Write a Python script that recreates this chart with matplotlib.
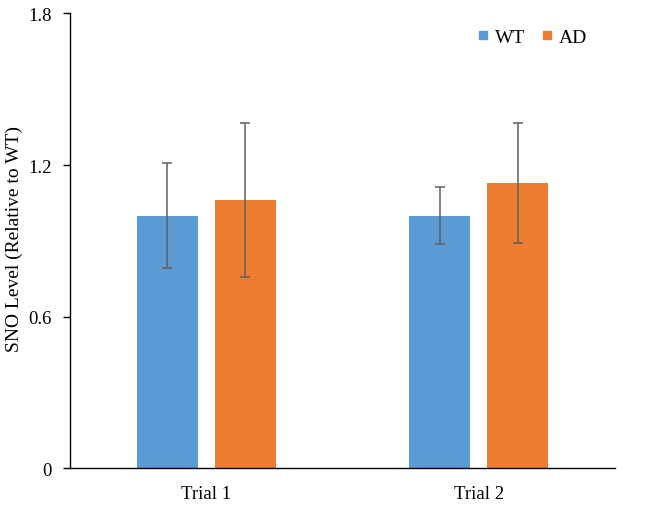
import matplotlib
matplotlib.use("Agg")
import matplotlib.pyplot as plt
from matplotlib.lines import Line2D
import numpy as np

categories = ["Trial 1", "Trial 2"]
series = ["WT", "AD"]
wt_values = [1.0, 1.0]
wt_errors = [0.208, 0.114]
ad_values = [1.063, 1.13]
ad_errors = [0.304, 0.238]
yticks = [0, 0.6, 1.2, 1.8]
ytick_labels = ["0", "0.6", "1.2", "1.8"]

colors = ["#5B9BD5", "#ED7D31"]
plt.rcParams['font.family'] = ['Liberation Serif', 'DejaVu Serif']

fig = plt.figure(figsize=(6.45, 5.06), dpi=100)
ax = fig.add_axes([0.1085, 0.0725, 0.845, 0.899])

x = np.arange(len(categories))
w = 0.224
off = 0.143
ekw = dict(ecolor="#5f5f5f", elinewidth=1.1, capsize=3.5, capthick=1.1)
ax.bar(x - off, wt_values, w, yerr=wt_errors, color=colors[0], error_kw=ekw, zorder=2)
ax.bar(x + off, ad_values, w, yerr=ad_errors, color=colors[1], error_kw=ekw, zorder=2)

ax.set_xlim(-0.5, 1.5)
ax.set_ylim(0, 1.8)
ax.set_xticks(x)
ax.set_xticklabels(categories, fontsize=13.5)
ax.set_yticks(yticks)
ax.set_yticklabels(ytick_labels, fontsize=13.5)
ax.tick_params(axis='x', length=0, pad=12)
ax.tick_params(axis='y', direction='out', length=5, width=1, pad=8)
for s in ['top', 'right']:
    ax.spines[s].set_visible(False)
for s in ['left', 'bottom']:
    ax.spines[s].set_linewidth(1.0)
ax.set_ylabel("SNO Level (Relative to WT)", fontsize=14, va='center')
ax.yaxis.set_label_coords(-0.103, 0.507)

handles = [Line2D([], [], marker='s', linestyle='none', color=c, markersize=6) for c in colors]
fig.legend(handles, series, loc='center', bbox_to_anchor=(0.825, 0.924), ncol=2,
           frameon=False, fontsize=14, handlelength=0.6, handletextpad=0.3, columnspacing=0.8)

fig.savefig("out.png", dpi=100)
